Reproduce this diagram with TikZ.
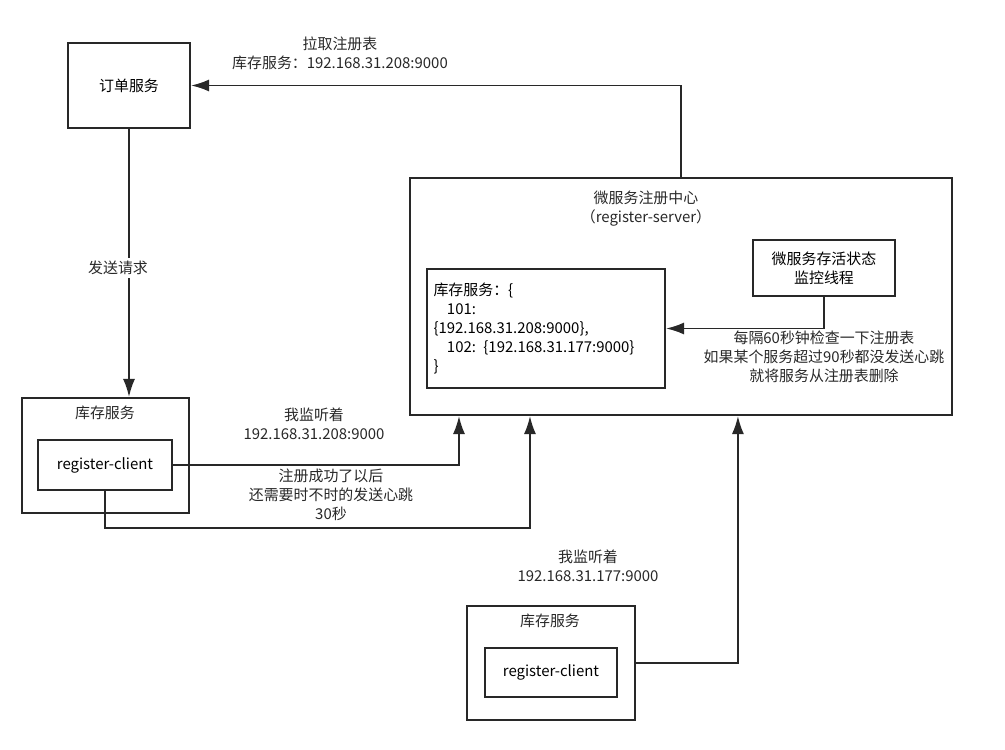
\documentclass[tikz,border=0pt]{standalone}
\usepackage{fontspec}
\setmainfont{Noto Sans CJK SC}
\usetikzlibrary{arrows.meta,positioning}
\definecolor{inkgray}{RGB}{40,40,40}

\begin{document}
\begin{tikzpicture}[
  x=0.02cm,y=-0.02cm,font=\fontsize{8.5}{10.8}\selectfont,>=Latex,
  box/.style={draw=inkgray,line width=1.2pt,inner sep=0pt,align=center},
  conn/.style={-{Latex[length=3.6mm,width=2.4mm]},draw=inkgray,line width=1pt},
  lbl/.style={align=center,inner sep=1pt,text=inkgray}
]
\useasboundingbox (0,0) rectangle (1005,750);
% ---------- order service
\node[box,minimum width=2.44cm,minimum height=1.7cm] (order) at (129,85.5) {订单服务};
% ---------- registry server
\node[box,minimum width=10.84cm,minimum height=4.74cm] (server) at (681,296.5) {};
\node[lbl] (servert) at (646,209) {微服务注册中心\\（register-server）};
\node[box,text width=4.5cm,inner xsep=0.13cm,minimum height=2.38cm,align=left] (registry) at (546,328.5)
  {库存服务：\{\\\hspace*{0.9em}101:\\\{192.168.31.208:9000\},\\\hspace*{0.9em}102: \{192.168.31.177:9000\}\\\}};
\node[box,minimum width=2.84cm,minimum height=1.12cm] (monitor) at (824,268) {微服务存活状态\\监控线程};
% ---------- inventory service, first instance
\node[box,minimum width=3.34cm,minimum height=2.3cm] (stock1) at (105.5,455.5) {};
\node[lbl] (stock1t) at (105,413) {库存服务};
\node[box,minimum width=2.68cm,minimum height=1.0cm] (client1) at (105,465) {register-client};
% ---------- inventory service, second instance
\node[box,minimum width=3.36cm,minimum height=2.28cm] (stock2) at (551,663) {};
\node[lbl] (stock2t) at (550,621) {库存服务};
\node[box,minimum width=2.64cm,minimum height=0.98cm] (client2) at (551,672.5) {register-client};
% ---------- connectors
\draw[conn] (server.north) |- (order.east);
\draw[conn] (order.south) -- (order.south |- stock1.north);
\draw[conn] (monitor.south) |- (registry.east);
\draw[conn] (client1.east) -| ([xshift=1cm]server.south west);
\draw[conn] (client1.south) -- ++(0,37) -| ([xshift=2.42cm]server.south west);
\draw[conn] (stock2.east) -| ([xshift=6.58cm]server.south west);
% ---------- labels
\node[lbl] (pull) at (340,53) {拉取注册表\\库存服务：192.168.31.208:9000};
\node[lbl,fill=white,inner sep=2pt] (send) at (118,268) {发送请求};
\node[lbl] (check) at (824,357) {每隔60秒钟检查一下注册表\\如果某个服务超过90秒都没发送心跳\\就将服务从注册表删除};
\node[lbl] (listen1) at (314,424) {我监听着\\192.168.31.208:9000};
\node[lbl] (beat) at (331,495) {注册成功了以后\\还需要时不时的发送心跳\\30秒};
\node[lbl] (listen2) at (588,566) {我监听着\\192.168.31.177:9000};
\end{tikzpicture}
\end{document}
